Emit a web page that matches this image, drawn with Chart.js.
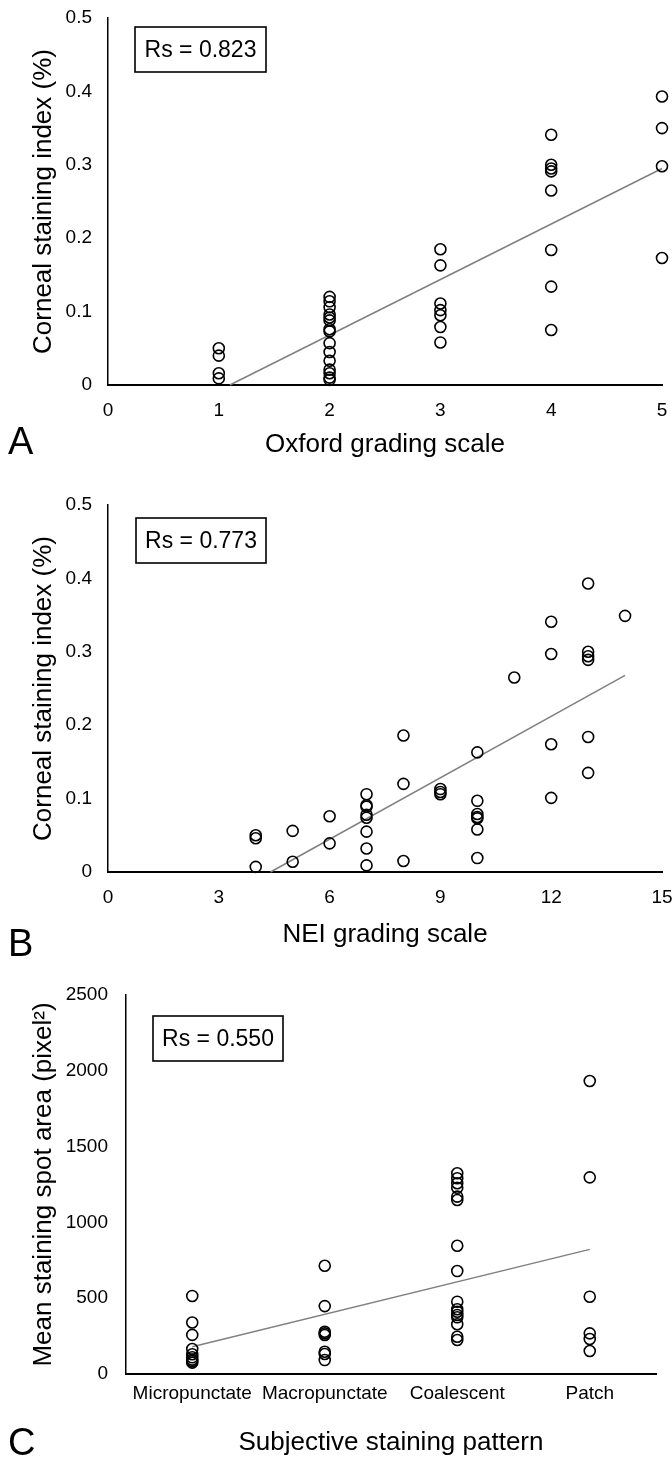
<!DOCTYPE html>
<html>
<head>
<meta charset="utf-8">
<title>Corneal staining correlations</title>
<script src="https://cdn.jsdelivr.net/npm/chart.js@4.4.1/dist/chart.umd.min.js"></script>
<style>
  body { margin: 0; background: #fff; }
  #page { position: relative; width: 672px; height: 1458px; overflow: hidden; }
  #page canvas { position: absolute; left: 0; }
  .panel-letter { position: absolute; left: 8px; font: 38px 'Liberation Sans', Arial, sans-serif; line-height: 38px; color: #000; }
</style>
</head>
<body>
<div id="page">
  <canvas id="chart-a" width="672" height="460" style="top:0"></canvas>
  <canvas id="chart-b" width="672" height="470" style="top:480px"></canvas>
  <canvas id="chart-c" width="672" height="498" style="top:960px"></canvas>
  <div class="panel-letter" style="top:422px">A</div>
  <div class="panel-letter" style="top:924px">B</div>
  <div class="panel-letter" style="top:1423px">C</div>
</div>
<script>
// Panel A: Oxford grade vs corneal staining index
const oxfordGrade = [1, 1, 1, 1,
  2, 2, 2, 2, 2, 2, 2, 2, 2, 2, 2, 2, 2, 2, 2,
  3, 3, 3, 3, 3, 3, 3,
  4, 4, 4, 4, 4, 4, 4, 4,
  5, 5, 5, 5];
const oxfordIndex = [0.050, 0.040, 0.016, 0.009,
  0.120, 0.114, 0.106, 0.096, 0.092, 0.088, 0.076, 0.073, 0.057, 0.045, 0.033, 0.021, 0.016, 0.010, 0.007,
  0.185, 0.163, 0.111, 0.102, 0.095, 0.079, 0.058,
  0.341, 0.300, 0.295, 0.291, 0.265, 0.184, 0.134, 0.075,
  0.393, 0.350, 0.298, 0.173];
const oxfordFitX = [1.1, 5];
const oxfordFitY = [0, 0.295];

// Panel B: NEI grade vs corneal staining index
const neiGrade = [4, 4, 4, 5, 5, 6, 6,
  7, 7, 7, 7, 7, 7, 7, 7,
  8, 8, 8, 9, 9, 9,
  10, 10, 10, 10, 10, 10, 10,
  11, 12, 12, 12, 12,
  13, 13, 13, 13, 13, 13, 14];
const neiIndex = [0.050, 0.046, 0.007, 0.056, 0.014, 0.076, 0.039,
  0.106, 0.091, 0.089, 0.078, 0.074, 0.055, 0.032, 0.009,
  0.186, 0.120, 0.015, 0.113, 0.109, 0.106,
  0.163, 0.097, 0.079, 0.075, 0.073, 0.058, 0.019,
  0.265, 0.341, 0.297, 0.174, 0.101,
  0.393, 0.300, 0.294, 0.289, 0.184, 0.135, 0.349];
const neiFitX = [4.4, 14];
const neiFitY = [0, 0.268];

// Panel C: subjective pattern vs mean spot area
const patterns = ['Micropunctate', 'Macropunctate', 'Coalescent', 'Patch'];
const micropunctateArea = [515, 340, 258, 165, 130, 110, 95, 85, 75];
const macropunctateArea = [714, 448, 279, 268, 257, 147, 132, 92];
const coalescentArea = [1324, 1291, 1258, 1229, 1170, 1148, 846, 679, 477, 427, 411, 389, 374, 328, 246, 224];
const patchArea = [1933, 1297, 510, 268, 231, 152];
const patternFitY = [180, 822];

const FONT = "'Liberation Sans', Arial, sans-serif";
Chart.defaults.font.family = FONT;
Chart.defaults.color = '#000';
Chart.defaults.animation = false;

// Boxed correlation label, placed relative to the plot area
const rsBox = {
  id: 'rsBox',
  afterDraw(chart, args, opts) {
    const { ctx, chartArea } = chart;
    const x = chartArea.left + opts.dx;
    const y = chartArea.top + opts.dy;
    ctx.save();
    ctx.strokeStyle = '#000';
    ctx.lineWidth = 1.6;
    ctx.strokeRect(x, y, opts.w, opts.h);
    ctx.fillStyle = '#000';
    ctx.font = '23px ' + FONT;
    ctx.textAlign = 'center';
    ctx.textBaseline = 'middle';
    ctx.fillText(opts.text, x + opts.w / 2, y + opts.h / 2 + 1);
    ctx.restore();
  }
};

const pointStyle = {
  pointRadius: 5.5,
  pointHoverRadius: 5.5,
  pointBorderWidth: 1.6,
  pointBorderColor: '#000',
  pointBackgroundColor: 'rgba(0,0,0,0)',
  clip: false
};

const fitStyle = {
  type: 'line',
  borderColor: '#808080',
  borderWidth: 1.5,
  pointRadius: 0,
  fill: false,
  clip: false
};

function pairs(xs, ys) {
  return xs.map((x, i) => ({ x: x, y: ys[i] }));
}

// box: [chartLeft, chartTop, chartRight, chartBottom] inside the canvas
function makeChart(id, box, cfg) {
  const canvas = document.getElementById(id);
  const [left, top, right, bottom] = box;
  return new Chart(canvas, {
    type: 'scatter',
    data: { datasets: cfg.datasets },
    options: {
      responsive: false,
      events: [],
      layout: { padding: { left: 0, top: top, right: canvas.width - right, bottom: 0 } },
      plugins: {
        legend: { display: false },
        tooltip: { enabled: false },
        rsBox: cfg.rs
      },
      scales: {
        x: Object.assign({
          grid: { display: false, drawTicks: false },
          border: { color: '#000', width: 2 },
          title: { display: true, text: cfg.xTitle, font: { size: 26 }, padding: { top: cfg.xTitlePad, bottom: 0 } },
          afterFit: s => { s.height = canvas.height - bottom; s.paddingLeft = 0; s.paddingRight = 0; }
        }, cfg.x),
        y: Object.assign({
          grid: { display: false, drawTicks: false },
          border: { color: '#000', width: 1.5 },
          title: { display: true, text: cfg.yTitle, font: { size: 26 }, padding: { top: 28, bottom: 0 } },
          afterFit: s => { s.width = left; s.paddingTop = 0; s.paddingBottom = 0; }
        }, cfg.y)
      }
    },
    plugins: [rsBox]
  });
}

makeChart('chart-a', [108, 18, 662, 385], {
  datasets: [
    Object.assign({ data: pairs(oxfordGrade, oxfordIndex) }, pointStyle),
    Object.assign({ data: pairs(oxfordFitX, oxfordFitY) }, fitStyle)
  ],
  rs: { text: 'Rs = 0.823', dx: 27, dy: 9, w: 131, h: 45 },
  xTitle: 'Oxford grading scale', xTitlePad: 4,
  yTitle: 'Corneal staining index (%)',
  x: { min: 0, max: 5, ticks: { font: { size: 19 }, padding: 14, stepSize: 1, maxRotation: 0 } },
  y: { min: 0, max: 0.5, ticks: { font: { size: 19 }, padding: 16, stepSize: 0.1 } }
});

makeChart('chart-b', [108, 25, 662, 392], {
  datasets: [
    Object.assign({ data: pairs(neiGrade, neiIndex) }, pointStyle),
    Object.assign({ data: pairs(neiFitX, neiFitY) }, fitStyle)
  ],
  rs: { text: 'Rs = 0.773', dx: 28, dy: 13, w: 130, h: 45 },
  xTitle: 'NEI grading scale', xTitlePad: 7,
  yTitle: 'Corneal staining index (%)',
  x: { min: 0, max: 15, ticks: { font: { size: 19 }, padding: 14, stepSize: 3, maxRotation: 0 } },
  y: { min: 0, max: 0.5, ticks: { font: { size: 19 }, padding: 16, stepSize: 0.1 } }
});

const areaByPattern = [micropunctateArea, macropunctateArea, coalescentArea, patchArea];
const patternPoints = [];
patterns.forEach((p, i) => areaByPattern[i].forEach(v => patternPoints.push({ x: p, y: v })));

makeChart('chart-c', [126, 35, 656, 414], {
  datasets: [
    Object.assign({ data: patternPoints }, pointStyle),
    Object.assign({ data: [{ x: patterns[0], y: patternFitY[0] }, { x: patterns[3], y: patternFitY[1] }] }, fitStyle)
  ],
  rs: { text: 'Rs = 0.550', dx: 27, dy: 21, w: 130, h: 45 },
  xTitle: 'Subjective staining pattern', xTitlePad: 0,
  yTitle: 'Mean staining spot area (pixel²)',
  x: { type: 'category', labels: patterns, offset: true, ticks: { font: { size: 19 }, padding: 8, maxRotation: 0, autoSkip: false } },
  y: { min: 0, max: 2500, ticks: { font: { size: 19 }, padding: 18, stepSize: 500, callback: v => String(v) } }
});
</script>
</body>
</html>
